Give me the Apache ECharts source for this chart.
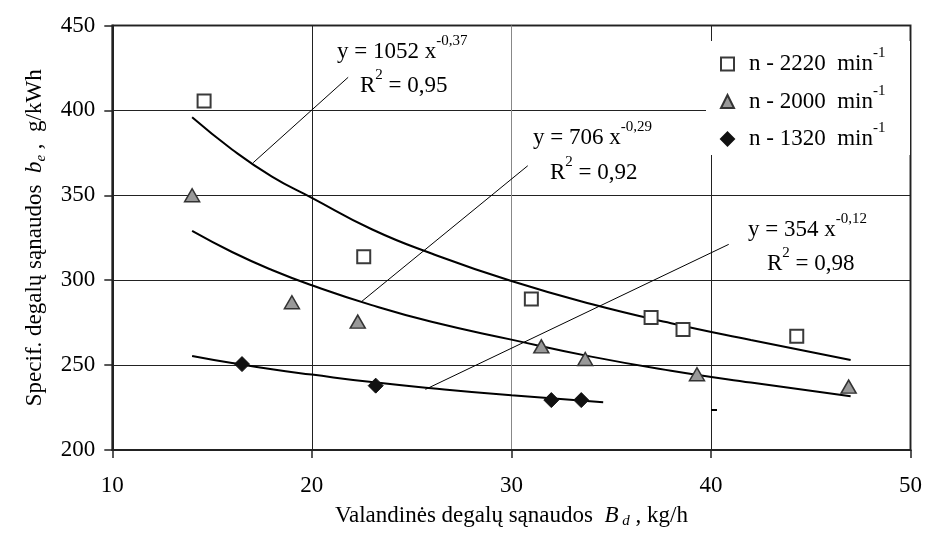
<!DOCTYPE html>
<html><head><meta charset="utf-8">
<script src="https://cdn.jsdelivr.net/npm/echarts@6/dist/echarts.min.js"></script>
<style>html,body{margin:0;padding:0;background:#fff}#c{width:925px;height:537px}</style>
</head><body><div id="c"></div>
<script>
// ---- data ----
const xTicks = [10, 20, 30, 40, 50];
const yTicks = [200, 250, 300, 350, 400, 450];
const seriesNames = ['n - 2220', 'n - 2000', 'n - 1320'];

const x2220 = [14.6, 22.6, 31.0, 37.0, 38.6, 44.3];
const y2220 = [405.5, 313.8, 289.0, 278.0, 271.0, 267.0];
const x2000 = [14.0, 19.0, 22.3, 31.5, 33.7, 39.3, 46.9];
const y2000 = [350.0, 287.0, 275.6, 261.0, 253.6, 244.6, 237.3];
const x1320 = [16.5, 23.2, 32.0, 33.5];
const y1320 = [250.6, 237.9, 229.4, 229.4];

// trend lines
const trendX2220 = [14, 16, 18, 20, 23, 26, 30, 34, 38, 42, 47];
const trendY2220 = [395.9, 377.0, 361.0, 348.5, 330.0, 315.7, 299.5, 286.0, 274.7, 264.8, 253.0];
const trendX2000 = [14, 16, 18, 20, 23, 26, 30, 34, 38, 42, 47];
const trendY2000 = [329.0, 316.6, 306.0, 297.0, 285.3, 275.5, 265.0, 255.0, 246.7, 239.7, 231.6];
const trendX1320 = [14, 16, 18, 20, 23, 26, 30, 34.6];
const trendY1320 = [255.4, 251.2, 247.5, 244.4, 240.0, 236.4, 232.2, 228.1];

// leader lines (data coordinates)
const lead1X = [17.06, 21.82], lead1Y = [369.2, 419.5];
const lead2X = [22.48, 30.82], lead2Y = [287.3, 367.4];
const lead3X = [25.69, 40.89], lead3Y = [235.7, 321.1];

const eqTexts = [
  ['y = 1052 x', '-0,37', 'R', '2', ' = 0,95'],
  ['y = 706 x', '-0,29', 'R', '2', ' = 0,92'],
  ['y = 354 x', '-0,12', 'R', '2', ' = 0,98']
];
const unitText = 'min';
const unitSup = '-1';

// ---- helpers ----
const zip = (xs, ys) => xs.map((x, i) => [x, ys[i]]);
const FONT = '"Liberation Serif", "Times New Roman", serif';
const FS = 23, SFS = 15;

const supRich = {
  m: { fontFamily: FONT, fontSize: FS, color: '#000', verticalAlign: 'middle' },
  s: { fontFamily: FONT, fontSize: SFS, color: '#000', lineHeight: 36, verticalAlign: 'top' }
};

const chart = echarts.init(document.getElementById('c'), null, { renderer: 'canvas' });

const trendStyle = { color: '#000', width: 2 };
function trend(xs, ys) {
  return { type: 'line', data: zip(xs, ys), smooth: true, showSymbol: false, symbol: 'none',
           silent: true, lineStyle: trendStyle, z: 3 };
}
function leader(xs, ys) {
  return { type: 'line', data: zip(xs, ys), showSymbol: false, symbol: 'none', silent: true,
           lineStyle: { color: '#000', width: 1 }, z: 3 };
}

const annPos = [
  [[337, 52], [360, 86]],
  [[533, 138], [550, 173]],
  [[748, 230], [767, 264]]
];
const graphics = [
  { type: 'rect', shape: { x: 706, y: 41, width: 204, height: 114 }, style: { fill: '#fff' }, z: 1, silent: true },
  { type: 'line', shape: { x1: 711, y1: 410, x2: 717, y2: 410 }, style: { stroke: '#000', lineWidth: 2 }, z: 1, silent: true }
];
eqTexts.forEach((t, i) => {
  graphics.push({ type: 'text', x: annPos[i][0][0], y: annPos[i][0][1], z: 10,
    style: { text: '{m|' + t[0] + '}{s|' + t[1] + '}', rich: supRich, verticalAlign: 'middle', align: 'left' } });
  graphics.push({ type: 'text', x: annPos[i][1][0], y: annPos[i][1][1], z: 10,
    style: { text: '{m|' + t[2] + '}{s|' + t[3] + '}{m|' + t[4] + '}', rich: supRich, verticalAlign: 'middle', align: 'left' } });
});

const option = {
  animation: false,
  backgroundColor: '#fff',
  grid: { left: 112.3, right: 14, top: 25.5, bottom: 87, show: true, borderColor: '#333', borderWidth: 2, backgroundColor: 'transparent' },
  legend: {
    data: seriesNames, orient: 'vertical', left: 720, top: 46, itemGap: 8, padding: 0,
    itemWidth: 13, itemHeight: 13,
    formatter: name => '{m|' + name + '  ' + unitText + '}{s|' + unitSup + '}',
    textStyle: { rich: {
      m: { fontFamily: FONT, fontSize: FS, color: '#000', verticalAlign: 'middle', padding: [0, 0, 0, 10] },
      s: { fontFamily: FONT, fontSize: SFS, color: '#000', lineHeight: 36, verticalAlign: 'top' }
    } },
    z: 5
  },
  xAxis: {
    type: 'value', min: xTicks[0], max: xTicks[xTicks.length - 1], interval: xTicks[1] - xTicks[0],
    axisLine: { show: true, onZero: false, lineStyle: { color: '#222', width: 2 } },
    axisTick: { show: true, inside: false, length: 8, lineStyle: { color: '#222', width: 1.5 } },
    axisLabel: { fontFamily: FONT, fontSize: FS, color: '#000', margin: 24 },
    splitLine: { show: true, lineStyle: { color: ['#222', '#222', '#888', '#222', '#222'], width: 1 } },
    name: '{m|Valandinės degalų sąnaudos  }{i|B}{d| d}{m| , kg/h}',
    nameLocation: 'middle', nameGap: 53,
    nameTextStyle: { rich: {
      m: { fontFamily: FONT, fontSize: FS, color: '#000', verticalAlign: 'middle' },
      i: { fontFamily: FONT, fontSize: FS, fontStyle: 'italic', color: '#000', verticalAlign: 'middle' },
      d: { fontFamily: FONT, fontSize: SFS, fontStyle: 'italic', color: '#000', lineHeight: 26, verticalAlign: 'bottom' }
    } }
  },
  yAxis: {
    type: 'value', min: yTicks[0], max: yTicks[yTicks.length - 1], interval: yTicks[1] - yTicks[0],
    axisLine: { show: true, onZero: false, lineStyle: { color: '#222', width: 2 } },
    axisTick: { show: true, inside: false, length: 8, lineStyle: { color: '#222', width: 1.5 } },
    axisLabel: { fontFamily: FONT, fontSize: FS, color: '#000', margin: 17 },
    splitLine: { show: true, lineStyle: { color: '#222', width: 1 } },
    name: '{m|Specif. degalų sąnaudos  }{i|b}{e|e}{m| ,  g/kWh}',
    nameLocation: 'middle', nameGap: 64,
    nameTextStyle: { rich: {
      m: { fontFamily: FONT, fontSize: FS, color: '#000', verticalAlign: 'middle' },
      i: { fontFamily: FONT, fontSize: FS, fontStyle: 'italic', color: '#000', verticalAlign: 'middle' },
      e: { fontFamily: FONT, fontSize: SFS, fontStyle: 'italic', color: '#000', lineHeight: 26, verticalAlign: 'bottom' }
    } }
  },
  series: [
    { name: seriesNames[0], type: 'scatter', data: zip(x2220, y2220), symbol: 'rect', symbolSize: 13,
      itemStyle: { color: '#fff', borderColor: '#3a3a3a', borderWidth: 2, opacity: 1 }, z: 5 },
    { name: seriesNames[1], type: 'scatter', data: zip(x2000, y2000), symbol: 'triangle', symbolSize: [15, 13],
      itemStyle: { color: '#999', borderColor: '#333', borderWidth: 1.5, opacity: 1 }, z: 5 },
    { name: seriesNames[2], type: 'scatter', data: zip(x1320, y1320), symbol: 'diamond', symbolSize: [15, 15],
      itemStyle: { color: '#111', borderColor: '#111', borderWidth: 1, opacity: 1 }, z: 5 },
    trend(trendX2220, trendY2220),
    trend(trendX2000, trendY2000),
    trend(trendX1320, trendY1320),
    leader(lead1X, lead1Y),
    leader(lead2X, lead2Y),
    leader(lead3X, lead3Y)
  ],
  graphic: graphics
};
chart.setOption(option);
</script></body></html>
